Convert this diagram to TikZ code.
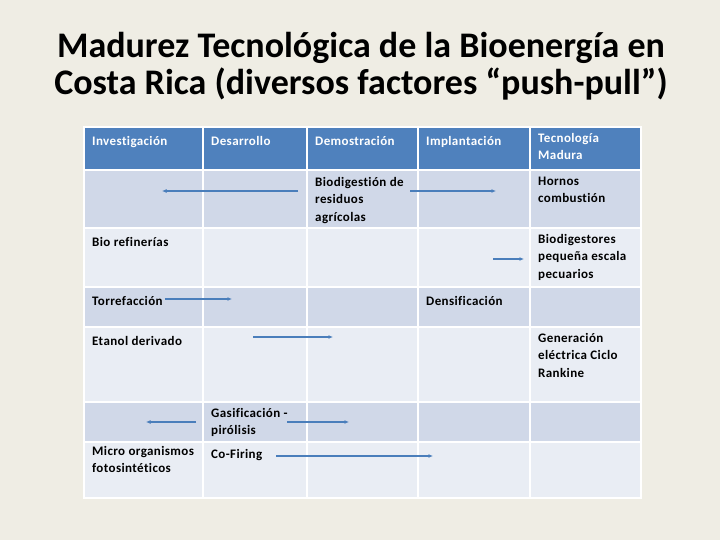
\documentclass[tikz,border=0pt]{standalone}
\usepackage{fontspec}
\setmainfont{Carlito}
\newfontfamily\cellfont[LetterSpace=3,Ligatures=NoCommon]{Carlito}
\usetikzlibrary{arrows.meta}
\definecolor{paper}{HTML}{EFEDE4}
\definecolor{hdrblue}{HTML}{4F81BD}
\definecolor{rowdark}{HTML}{D0D8E8}
\definecolor{rowlight}{HTML}{E9EDF4}
\definecolor{flowblue}{HTML}{4A7EBB}

\begin{document}
\begin{tikzpicture}[x=1pt,y=-1pt,
cell/.style={anchor=north west,yshift=12.25pt,align=left,inner sep=0pt,
  font=\cellfont\bfseries\fontsize{13}{17.5}\selectfont,execute at begin node=\strut},
head/.style={cell,text=white},
flow/.style={draw=flowblue,line width=1.6pt,-{Latex[length=4.5pt,width=4pt]}}]
\fill[paper] (0,0) rectangle (720,540);
% title
\node (title) at (361,95) [anchor=base,align=center,font=\fontsize{36}{37.5}\selectfont\bfseries]
  {Madurez Tecnológica de la Bioenergía en\\Costa Rica (diversos factores “push-pull”)};
% table body
\foreach \ya/\yb/\c in {127/170/hdrblue,170/228/rowdark,228/287/rowlight,287/327/rowdark,
  327/402/rowlight,402/442/rowdark,442/498/rowlight}
  \fill[\c] (84,\ya) rectangle (641,\yb);
\foreach \x in {203,307,418,530} \draw[white,line width=2pt] (\x,127) -- (\x,498);
\foreach \y in {170,228,287,327,402,442} \draw[white,line width=2pt] (84,\y) -- (641,\y);
\draw[white,line width=1.5pt] (84,127) rectangle (641,498);
% header
\node (inv) at (92,145) [head] {Investigación};
\node (des) at (211,145) [head] {Desarrollo};
\node (dem) at (315,145) [head] {Demostración};
\node (imp) at (426,145) [head] {Implantación};
\node (mad) at (538,145) [head] {Tecnología\\Madura};
% cells
\node (biodig) at (315,189) [cell] {Biodigestión de\\residuos\\agrícolas};
\node (hornos) at (538,189) [cell] {Hornos\\combustión};
\node (biorefi) at (92,246) [cell] {Bio refinerías};
\node (biodest) at (538,246) [cell] {Biodigestores\\pequeña escala\\pecuarios};
\node (torre) at (92,305) [cell] {Torrefacción};
\node (densi) at (426,305) [cell] {Densificación};
\node (etanol) at (92,345) [cell] {Etanol derivado};
\node (rankine) at (538,345) [cell] {Generación\\eléctrica Ciclo\\Rankine};
\node (gasif) at (211,420) [cell] {Gasificación -\\pirólisis};
\node (micro) at (92,458) [cell] {Micro organismos\\fotosintéticos};
\node (cofir) at (211,458) [cell] {Co-Firing};
% arrow ends
\coordinate (a1s) at (298,191); \coordinate (a1e) at (162,191);
\coordinate (a2s) at (410,191); \coordinate (a2e) at (496,191);
\coordinate (a3s) at (493,259); \coordinate (a3e) at (524,259);
\coordinate (a4e) at (232,299);
\coordinate (a5s) at (253,337); \coordinate (a5e) at (333,337);
\coordinate (a6s) at (196,422); \coordinate (a6e) at (146,422);
\coordinate (a7s) at (287,422); \coordinate (a7e) at (349,422);
\coordinate (a8s) at (276,456); \coordinate (a8e) at (433,456);
\draw[flow] (a1s) -- (a1e);
\draw[flow] (a2s) -- (a2e);
\draw[flow] (a3s) -- (a3e);
\draw[flow] ([xshift=2pt]torre.east |- a4e) -- (a4e);
\draw[flow] (a5s) -- (a5e);
\draw[flow] (a6s) -- (a6e);
\draw[flow] (a7s) -- (a7e);
\draw[flow] (a8s) -- (a8e);
\end{tikzpicture}
\end{document}
